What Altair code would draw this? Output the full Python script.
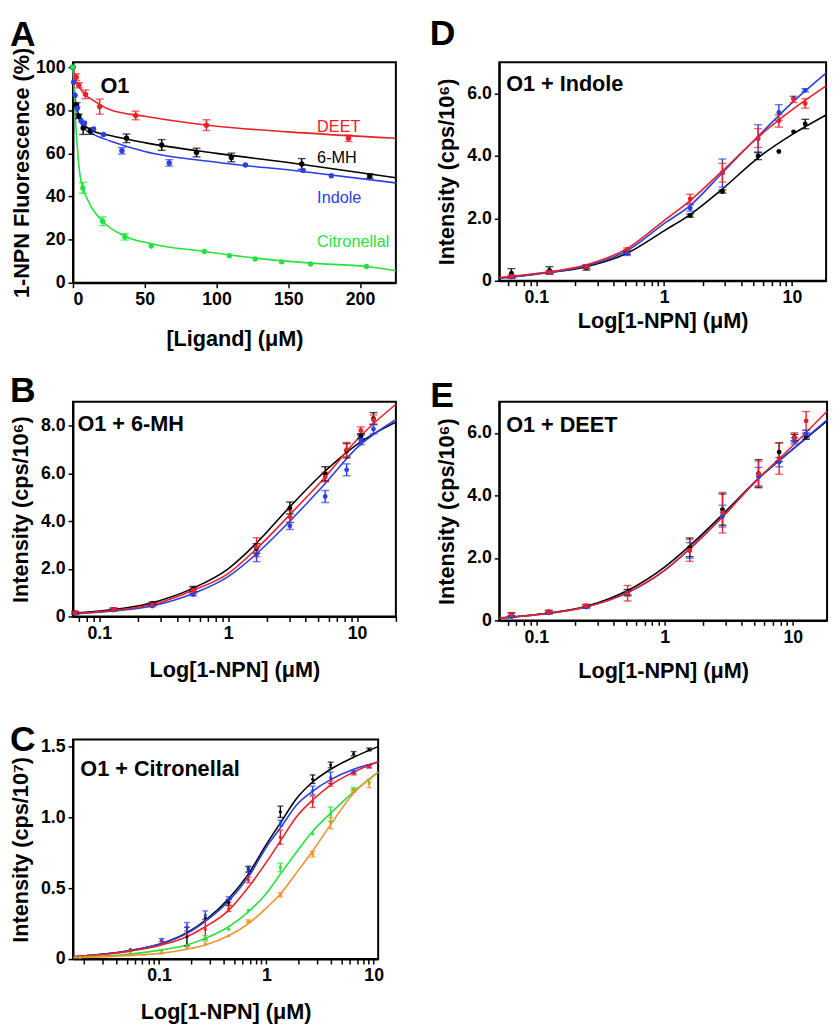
import altair as alt
import pandas as pd

FONT = "Liberation Sans"
BLACK = "#000000"
RED = "#ec2027"
BLUE = "#2b3fe6"
GREEN = "#25e23c"
ORANGE = "#f39131"

# ---------------- Panel A : competitive binding, O1 ----------------
A_DEET_X = [0, 2.3, 4.1, 8.7, 18.6, 43.7, 93, 192]
A_DEET_Y = [100, 95.4, 91.6, 87.4, 81.7, 77.6, 73.1, 67.0]
A_DEET_E = [0, 1.5, 1.2, 2.0, 3.5, 2.0, 2.5, 1.5]
A_DEET_FX = [0, 0.7, 3, 7.6, 14.4, 25.9, 50, 100, 150, 225]
A_DEET_FY = [100, 97, 92.4, 87.8, 84.5, 80.2, 77.2, 72.6, 70.0, 67.0]

A_6MH_X = [0, 2.5, 4.1, 7.1, 12.1, 37.3, 61.8, 86.1, 110.4, 159.4, 206.8]
A_6MH_Y = [100, 82.5, 77.2, 71.8, 70.3, 67.0, 63.9, 60.4, 58.1, 55.1, 49.5]
A_6MH_E = [0, 1.0, 1.0, 3.0, 1.5, 2.0, 2.5, 2.0, 2.0, 2.5, 1.0]
A_6MH_FX = [0, 1.1, 3, 7.6, 14.4, 25.9, 50, 100, 158.7, 225]
A_6MH_FY = [100, 87.8, 80.2, 73.4, 70.3, 68.3, 65.0, 60.0, 55.0, 48.7]

A_IND_X = [0, 0.5, 1.5, 3, 5.7, 8, 14.4, 21.3, 34.1, 67.1, 120.2, 160.3, 180]
A_IND_Y = [100, 93, 87, 81, 75, 74, 71.4, 68.8, 61.2, 55.6, 54.6, 52.1, 49.6]
A_IND_E = [0, 0, 0, 0, 0, 0, 0, 0, 1.5, 1.5, 0, 0, 0]
A_IND_FX = [0, 1.1, 3, 7.6, 14.4, 25.9, 50, 100, 160, 225]
A_IND_FY = [100, 87.8, 78.7, 71.8, 68.8, 65.8, 60.9, 55.9, 51.6, 46.3]

A_CIT_X = [0, 6.9, 20.6, 36.2, 54.5, 91.6, 109, 127, 145.4, 165.6, 204.5]
A_CIT_Y = [100, 44, 28.5, 21.3, 17.0, 14.5, 12.5, 11.0, 9.7, 8.7, 7.5]
A_CIT_E = [0, 2.5, 2.0, 1.5, 0, 0, 0, 0, 0, 0, 0]
A_CIT_FX = [0, 1.1, 2.3, 3.0, 4.1, 5.3, 6.9, 12.1, 20.6, 36.2, 54.5, 91.6, 129, 165.6, 204.5, 225]
A_CIT_FY = [100, 84.8, 69.6, 63.5, 54.3, 48.2, 44.0, 36.0, 28.5, 21.6, 18.1, 14.5, 11.3, 9.1, 7.5, 5.6]

A_LABELS = ["DEET", "6-MH", "Indole", "Citronellal"]

# ---------------- Panel B : O1 + 6-MH ----------------
B_X = [0.065, 0.129, 0.258, 0.536, 1.66, 3.01, 5.66, 8.3, 10.7, 13.4]
B_BLACK_Y = [0.16, 0.30, 0.55, 1.16, 2.85, 4.55, 5.98, 6.95, 7.56, 8.30]
B_BLACK_E = [0.05, 0.05, 0.05, 0.10, 0.20, 0.25, 0.30, 0.30, 0.10, 0.25]
B_RED_Y = [0.16, 0.30, 0.50, 1.10, 2.90, 4.18, 5.85, 7.00, 7.80, 8.25]
B_RED_E = [0.05, 0.05, 0.05, 0.10, 0.40, 0.25, 0.20, 0.30, 0.15, 0.20]
B_BLUE_Y = [0.12, 0.27, 0.44, 0.92, 2.60, 3.80, 5.03, 6.15, 7.40, 7.86]
B_BLUE_E = [0.03, 0.03, 0.03, 0.05, 0.30, 0.15, 0.25, 0.25, 0.20, 0.20]
B_FX = [0.0625, 0.1, 0.258, 0.536, 1, 1.66, 3.01, 5.66, 10, 20]
B_BLACK_FY = [0.14, 0.23, 0.58, 1.19, 2.00, 3.08, 4.60, 6.10, 7.22, 8.15]
B_RED_FY = [0.12, 0.20, 0.50, 1.10, 1.80, 2.84, 4.27, 5.85, 7.42, 8.90]
B_BLUE_FY = [0.11, 0.18, 0.44, 0.96, 1.67, 2.63, 4.00, 5.58, 7.08, 8.25]

# ---------------- Panel C : O1 + Citronellal ----------------
C_X = [0.0184, 0.054, 0.106, 0.182, 0.27, 0.445, 0.68, 1.35, 2.7, 3.97, 6.5, 9.06]
C_BLACK_Y = [0.019, 0.065, 0.128, 0.158, 0.29, 0.40, 0.635, 1.04, 1.27, 1.37, 1.45, 1.48]
C_BLACK_E = [0, 0, 0, 0.065, 0, 0.02, 0.02, 0.04, 0.03, 0.02, 0.015, 0.01]
C_BLUE_Y = [0.019, 0.065, 0.135, 0.228, 0.31, 0.42, 0.63, 0.96, 1.19, 1.28, 1.32, 1.36]
C_BLUE_E = [0, 0, 0.01, 0.03, 0.03, 0.02, 0.02, 0.02, 0.03, 0.04, 0.01, 0.01]
C_RED_Y = [0.019, 0.06, 0.123, 0.177, 0.21, 0.356, 0.558, 0.86, 1.11, 1.24, 1.31, 1.36]
C_RED_E = [0, 0, 0, 0, 0.07, 0.02, 0.02, 0.05, 0.04, 0.02, 0.01, 0.01]
C_GREEN_Y = [0.014, 0.04, 0.06, 0.095, 0.146, 0.21, 0.344, 0.647, 0.884, 1.023, 1.20, 1.25]
C_GREEN_E = [0, 0, 0, 0, 0.02, 0, 0, 0.03, 0, 0.05, 0.01, 0]
C_ORANGE_Y = [0.014, 0.03, 0.042, 0.081, 0.107, 0.165, 0.267, 0.453, 0.74, 0.96, 1.19, 1.24]
C_ORANGE_E = [0, 0, 0, 0, 0, 0, 0.01, 0.015, 0.02, 0.04, 0.01, 0.03]
C_FX = [0.016, 0.054, 0.106, 0.182, 0.27, 0.445, 0.68, 1.02, 1.35, 1.92, 2.7, 3.97, 6.5, 11]
C_BLACK_FY = [0.016, 0.06, 0.11, 0.186, 0.274, 0.426, 0.60, 0.82, 0.96, 1.135, 1.25, 1.34, 1.425, 1.50]
C_BLUE_FY = [0.016, 0.06, 0.11, 0.181, 0.267, 0.409, 0.58, 0.80, 0.925, 1.09, 1.186, 1.267, 1.34, 1.39]
C_RED_FY = [0.016, 0.056, 0.10, 0.158, 0.228, 0.344, 0.507, 0.693, 0.833, 1.007, 1.123, 1.228, 1.32, 1.395]
C_GREEN_FY = [0.012, 0.035, 0.065, 0.10, 0.146, 0.228, 0.333, 0.472, 0.60, 0.758, 0.902, 1.03, 1.181, 1.32]
C_ORANGE_FY = [0.009, 0.026, 0.042, 0.07, 0.10, 0.165, 0.251, 0.367, 0.46, 0.612, 0.763, 0.949, 1.17, 1.32]

# ---------------- Panel D : O1 + Indole ----------------
D_X = [0.064, 0.127, 0.247, 0.513, 1.6, 2.86, 5.44, 7.9, 10.3, 12.7]
D_BLACK_Y = [0.24, 0.33, 0.42, 0.90, 2.09, 2.86, 4.00, 4.14, 4.77, 5.02]
D_BLACK_E = [0.15, 0.12, 0.08, 0.05, 0.05, 0.05, 0.12, 0, 0, 0.15]
D_BLUE_Y = [0.12, 0.27, 0.45, 0.88, 2.33, 3.45, 4.55, 5.39, 5.85, 6.10]
D_BLUE_E = [0.05, 0.05, 0.05, 0.07, 0.10, 0.45, 0.45, 0.25, 0, 0.05]
D_RED_Y = [0.14, 0.27, 0.45, 1.00, 2.62, 3.46, 4.57, 5.12, 5.81, 5.68]
D_RED_E = [0.05, 0.05, 0.05, 0.05, 0.15, 0.30, 0.30, 0.20, 0.10, 0.15]
D_FX = [0.0514, 0.1, 0.247, 0.513, 1, 1.6, 2.86, 5.44, 10, 18.5]
D_BLACK_FY = [0.08, 0.22, 0.45, 0.88, 1.60, 2.12, 2.94, 3.94, 4.68, 5.31]
D_BLUE_FY = [0.08, 0.21, 0.48, 0.96, 1.83, 2.41, 3.46, 4.63, 5.70, 6.65]
D_RED_FY = [0.10, 0.23, 0.51, 1.03, 1.93, 2.57, 3.52, 4.60, 5.47, 6.24]

# ---------------- Panel E : O1 + DEET ----------------
E_X = [0.064, 0.125, 0.245, 0.515, 1.57, 2.83, 5.4, 7.83, 10.3, 12.7]
E_BLACK_Y = [0.19, 0.27, 0.45, 0.89, 2.34, 3.55, 4.70, 5.39, 5.86, 5.90]
E_BLACK_E = [0.05, 0.05, 0.05, 0.10, 0.30, 0.50, 0.45, 0.30, 0.10, 0.10]
E_BLUE_Y = [0.12, 0.24, 0.43, 0.87, 2.24, 3.34, 4.60, 5.07, 5.75, 5.97]
E_BLUE_E = [0.03, 0.03, 0.03, 0.05, 0.25, 0.35, 0.30, 0.15, 0.10, 0.12]
E_RED_Y = [0.19, 0.27, 0.47, 0.87, 2.24, 3.45, 4.70, 5.18, 5.86, 6.39]
E_RED_E = [0.05, 0.05, 0.05, 0.25, 0.35, 0.65, 0.40, 0.50, 0.15, 0.30]
E_FX = [0.0514, 0.1, 0.245, 0.515, 1, 1.57, 2.83, 5.4, 9.4, 18.5]
E_BLACK_FY = [0.08, 0.19, 0.45, 0.96, 1.71, 2.39, 3.39, 4.55, 5.39, 6.39]
E_BLUE_FY = [0.07, 0.18, 0.43, 0.89, 1.60, 2.29, 3.33, 4.55, 5.39, 6.42]
E_RED_FY = [0.07, 0.18, 0.43, 0.89, 1.60, 2.29, 3.31, 4.55, 5.49, 6.70]

LOG_TICKS = [0.02, 0.03, 0.04, 0.05, 0.06, 0.07, 0.08, 0.09, 0.1, 0.2, 0.3, 0.4, 0.5,
             0.6, 0.7, 0.8, 0.9, 1, 2, 3, 4, 5, 6, 7, 8, 9, 10, 20]
LOG_LABELS = [0.1, 1, 10]
X_TITLE = "Log[1-NPN] (μM)"


def ser(name, color, x, y, e, fx, fy):
    return dict(name=name, color=color, x=x, y=y, e=e, fx=fx, fy=fy)


def text_layer(text, px, py, size, weight="bold", color=BLACK):
    return alt.Chart(pd.DataFrame({"t": [text]})).mark_text(
        align="left", baseline="alphabetic", font=FONT, fontSize=size,
        fontWeight=weight, color=color
    ).encode(x=alt.value(px), y=alt.value(py), text="t:N")


def log_axis(lo, hi, title_y):
    vals = [v for v in LOG_TICKS if lo <= v <= hi]
    test = " || ".join("datum.value == %g" % v for v in LOG_LABELS)
    return alt.Axis(values=vals, format="~g", labelExpr="(%s) ? datum.label : ''" % test,
                    title=X_TITLE, titleY=title_y)


def int_axis(vals, title, title_x):
    return alt.Axis(values=vals, title=title, titleX=title_x,
                    labelExpr="datum.value == 0 ? '0' : format(datum.value, '.1f')")


def panel(key, series, xscale, yscale, xaxis, yaxis, w, h, pt_size, cap_w, texts):
    pts, fits = [], []
    for s in series:
        nm = key + ":" + s["name"]
        for xv, yv, ev in zip(s["x"], s["y"], s["e"]):
            pts.append({"s": nm, "x": xv, "y": yv, "lo": yv - ev, "hi": yv + ev, "e": ev})
        for xv, yv in zip(s["fx"], s["fy"]):
            fits.append({"s": nm, "x": xv, "y": yv})
    dp = pd.DataFrame(pts)
    dfit = pd.DataFrame(fits)
    deb = dp[dp["e"] > 0]
    color = alt.Color("s:N", legend=None,
                      scale=alt.Scale(domain=[key + ":" + s["name"] for s in series],
                                      range=[s["color"] for s in series]))
    X = alt.X("x:Q", scale=xscale, axis=xaxis)
    Y = alt.Y("y:Q", scale=yscale, axis=yaxis)
    lines = alt.Chart(dfit).mark_line(interpolate="monotone", strokeWidth=1.6).encode(X, Y, color)
    rules = alt.Chart(deb).mark_rule(strokeWidth=1.4).encode(
        X, alt.Y("lo:Q", scale=yscale, axis=yaxis), y2="hi:Q", color=color)
    cap_lo = alt.Chart(deb).mark_tick(orient="horizontal", size=cap_w, thickness=1.4).encode(
        X, alt.Y("lo:Q", scale=yscale, axis=yaxis), color=color)
    cap_hi = alt.Chart(deb).mark_tick(orient="horizontal", size=cap_w, thickness=1.4).encode(
        X, alt.Y("hi:Q", scale=yscale, axis=yaxis), color=color)
    points = alt.Chart(dp).mark_circle(size=pt_size, opacity=1).encode(X, Y, color)
    return alt.layer(lines, rules, cap_lo, cap_hi, points, *texts).properties(width=w, height=h)


# ---- Panel A (frame shares its top with panel D; 100 % sits 5 px below it)
chartA = panel(
    "A",
    [ser("DEET", RED, A_DEET_X, A_DEET_Y, A_DEET_E, A_DEET_FX, A_DEET_FY),
     ser("6-MH", BLACK, A_6MH_X, A_6MH_Y, A_6MH_E, A_6MH_FX, A_6MH_FY),
     ser("Indole", BLUE, A_IND_X, A_IND_Y, A_IND_E, A_IND_FX, A_IND_FY),
     ser("Citronellal", GREEN, A_CIT_X, A_CIT_Y, A_CIT_E, A_CIT_FX, A_CIT_FY)],
    alt.Scale(domain=[0, 225], nice=False, zero=False),
    alt.Scale(domain=[0, 102.3], nice=False),
    alt.Axis(values=[0, 50, 100, 150, 200], title="[Ligand] (μM)", titleY=47),
    alt.Axis(values=[0, 20, 40, 60, 80, 100], title="1-NPN Fluorescence (%)", titleX=-40),
    328, 224, 30, 8,
    [text_layer("A", -64, -16, 36),
     text_layer("O1", 28, 31.5, 22),
     text_layer(A_LABELS[0], 248, 70.5, 16.5, weight="normal", color=RED),
     text_layer(A_LABELS[1], 248, 102.5, 16.5, weight="normal", color=BLACK),
     text_layer(A_LABELS[2], 248, 142.5, 16.5, weight="normal", color=BLUE),
     text_layer(A_LABELS[3], 248, 187.5, 16.5, weight="normal", color=GREEN)],
)

# ---- Panel B
chartB = panel(
    "B",
    [ser("k", BLACK, B_X, B_BLACK_Y, B_BLACK_E, B_FX, B_BLACK_FY),
     ser("b", BLUE, B_X, B_BLUE_Y, B_BLUE_E, B_FX, B_BLUE_FY),
     ser("r", RED, B_X, B_RED_Y, B_RED_E, B_FX, B_RED_FY)],
    alt.Scale(type="log", domain=[0.0625, 20], nice=False),
    alt.Scale(domain=[0, 9], nice=False),
    log_axis(0.0625, 20, 44),
    int_axis([0, 2, 4, 6, 8], "Intensity (cps/10⁶)", -41),
    328, 218, 24, 8,
    [text_layer("B", -64, 0, 36),
     text_layer("O1 + 6-MH", 4.5, 29.5, 22)],
)

# ---- Panel C
chartC = panel(
    "C",
    [ser("k", BLACK, C_X, C_BLACK_Y, C_BLACK_E, C_FX, C_BLACK_FY),
     ser("b", BLUE, C_X, C_BLUE_Y, C_BLUE_E, C_FX, C_BLUE_FY),
     ser("r", RED, C_X, C_RED_Y, C_RED_E, C_FX, C_RED_FY),
     ser("g", GREEN, C_X, C_GREEN_Y, C_GREEN_E, C_FX, C_GREEN_FY),
     ser("o", ORANGE, C_X, C_ORANGE_Y, C_ORANGE_E, C_FX, C_ORANGE_FY)],
    alt.Scale(type="log", domain=[0.0158, 11], nice=False),
    alt.Scale(domain=[0, 1.55], nice=False),
    log_axis(0.0158, 11, 43),
    int_axis([0, 0.5, 1.0, 1.5], "Intensity (cps/10⁷)", -41),
    310, 223, 10, 6,
    [text_layer("C", -64, 12, 36),
     text_layer("O1 + Citronellal", 7.5, 37, 22)],
)

# ---- Panel D
chartD = panel(
    "D",
    [ser("k", BLACK, D_X, D_BLACK_Y, D_BLACK_E, D_FX, D_BLACK_FY),
     ser("b", BLUE, D_X, D_BLUE_Y, D_BLUE_E, D_FX, D_BLUE_FY),
     ser("r", RED, D_X, D_RED_Y, D_RED_E, D_FX, D_RED_FY)],
    alt.Scale(type="log", domain=[0.0514, 18.5], nice=False),
    alt.Scale(domain=[0, 7], nice=False),
    log_axis(0.0514, 18.5, 30),
    int_axis([0, 2, 4, 6], "Intensity (cps/10⁶)", -41),
    332, 222, 24, 8,
    [text_layer("D", -70.5, -17, 36),
     text_layer("O1 + Indole", 7, 29, 22)],
)

# ---- Panel E
chartE = panel(
    "E",
    [ser("k", BLACK, E_X, E_BLACK_Y, E_BLACK_E, E_FX, E_BLACK_FY),
     ser("b", BLUE, E_X, E_BLUE_Y, E_BLUE_E, E_FX, E_BLUE_FY),
     ser("r", RED, E_X, E_RED_Y, E_RED_E, E_FX, E_RED_FY)],
    alt.Scale(type="log", domain=[0.0514, 18.5], nice=False),
    alt.Scale(domain=[0, 7], nice=False),
    log_axis(0.0514, 18.5, 41),
    int_axis([0, 2, 4, 6], "Intensity (cps/10⁶)", -41),
    333, 222, 24, 8,
    [text_layer("E", -70, 5, 36),
     text_layer("O1 + DEET", 7, 31, 22)],
)

chart = alt.concat(
    chartA, chartD, chartB, chartE, chartC,
    columns=2, spacing={"row": 121, "column": 105}, bounds="flush"
).resolve_scale(color="independent").properties(
    padding=0
).configure_view(
    stroke="black", strokeWidth=2
).configure_axis(
    domainColor="black", domainWidth=2, tickColor="black", tickWidth=1.5, tickSize=5,
    labelFont=FONT, labelFontSize=18, labelFontWeight="bold", labelColor="black",
    labelPadding=3, titleFont=FONT, titleFontSize=22, titleFontWeight="bold",
    titleColor="black", grid=False
)

chart.save("out.html", embed_options={"renderer": "svg", "actions": False})
